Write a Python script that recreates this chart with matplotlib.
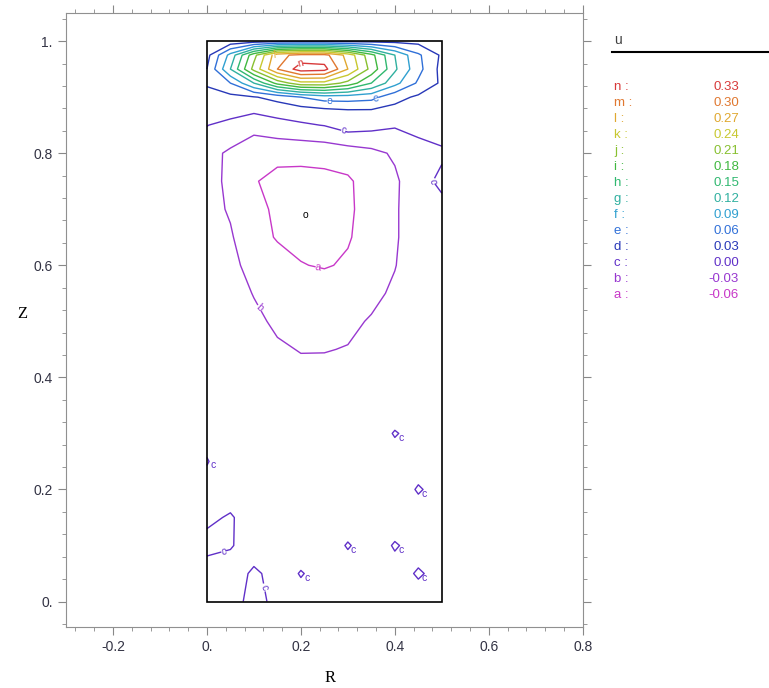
import numpy as np
import matplotlib
matplotlib.use("Agg")
import matplotlib.pyplot as plt
from matplotlib.ticker import MultipleLocator, FuncFormatter
from matplotlib.patches import Rectangle
from matplotlib.lines import Line2D

# grid of the field u (rows = Z, cols = R)
R = [0.0, 0.05, 0.10, 0.15, 0.20, 0.25, 0.30, 0.35, 0.40, 0.45, 0.50]
Z = [0.0, 0.05, 0.10, 0.15, 0.20, 0.25, 0.30, 0.35, 0.40, 0.45, 0.50, 0.55,
     0.60, 0.65, 0.70, 0.75, 0.80, 0.85, 0.875, 0.90, 0.925, 0.95, 0.975, 1.0]
U = [
    [-0.008, -0.012, 0.010, -0.008, -0.006, -0.005, -0.006, -0.006, -0.005, -0.004, -0.003],
    [-0.010, -0.012, 0.004, -0.008, 0.001, -0.006, -0.006, -0.007, -0.004, 0.001, -0.003],
    [0.006, 0.002, -0.012, -0.010, -0.008, -0.007, 0.001, -0.006, 0.001, -0.004, -0.004],
    [-0.004, 0.002, -0.010, -0.010, -0.009, -0.008, -0.007, -0.007, -0.006, -0.005, -0.004],
    [-0.006, -0.010, -0.011, -0.011, -0.010, -0.009, -0.008, -0.007, -0.006, 0.001, -0.004],
    [0.001, -0.010, -0.012, -0.012, -0.011, -0.010, -0.009, -0.008, -0.006, -0.005, -0.004],
    [-0.006, -0.011, -0.013, -0.013, -0.012, -0.011, -0.010, -0.008, 0.001, -0.005, -0.004],
    [-0.007, -0.011, -0.014, -0.016, -0.016, -0.015, -0.013, -0.011, -0.008, -0.006, -0.005],
    [-0.008, -0.012, -0.017, -0.022, -0.024, -0.023, -0.020, -0.016, -0.012, -0.008, -0.005],
    [-0.010, -0.014, -0.020, -0.027, -0.031, -0.031, -0.029, -0.022, -0.016, -0.010, -0.006],
    [-0.010, -0.016, -0.025, -0.034, -0.037, -0.038, -0.035, -0.028, -0.020, -0.012, -0.007],
    [-0.012, -0.020, -0.031, -0.040, -0.045, -0.046, -0.043, -0.036, -0.026, -0.014, -0.008],
    [-0.015, -0.024, -0.038, -0.050, -0.059, -0.062, -0.057, -0.045, -0.031, -0.015, -0.008],
    [-0.018, -0.027, -0.050, -0.062, -0.066, -0.067, -0.062, -0.050, -0.033, -0.015, -0.008],
    [-0.020, -0.033, -0.055, -0.063, -0.070, -0.067, -0.064, -0.050, -0.033, -0.015, -0.008],
    [-0.020, -0.036, -0.058, -0.068, -0.069, -0.068, -0.064, -0.047, -0.035, -0.010, 0.006],
    [-0.022, -0.034, -0.048, -0.052, -0.052, -0.050, -0.046, -0.038, -0.026, -0.010, -0.004],
    [0.001, -0.012, -0.020, -0.010, -0.004, 0.001, 0.015, 0.010, 0.003, 0.008, 0.012],
    [0.008, 0.015, 0.004, 0.010, 0.015, 0.020, 0.025, 0.025, 0.020, 0.018, 0.015],
    [0.015, 0.022, 0.028, 0.040, 0.060, 0.075, 0.075, 0.070, 0.040, 0.025, 0.018],
    [0.035, 0.060, 0.120, 0.190, 0.230, 0.230, 0.200, 0.150, 0.100, 0.055, 0.025],
    [0.030, 0.120, 0.220, 0.300, 0.345, 0.340, 0.270, 0.200, 0.125, 0.070, 0.020],
    [0.020, 0.100, 0.200, 0.290, 0.310, 0.310, 0.260, 0.190, 0.120, 0.065, 0.025],
    [0.004, 0.010, 0.015, 0.020, 0.020, 0.020, 0.020, 0.020, 0.020, 0.020, 0.010],
]

letters = ["a", "b", "c", "d", "e", "f", "g", "h", "i", "j", "k", "l", "m", "n"]
levels = [-0.06, -0.03, 0.00, 0.03, 0.06, 0.09, 0.12, 0.15, 0.18, 0.21, 0.24, 0.27, 0.30, 0.33]
colors = ["#c838c8", "#9838d0", "#6030c8", "#2838b8", "#3070d8", "#30a0d0", "#30b0a0",
          "#30b870", "#40b840", "#88c030", "#c8c830", "#e0a830", "#e07830", "#d83a3a"]

plt.rcParams['font.family'] = ['Liberation Sans', 'DejaVu Sans']

fig = plt.figure(figsize=(7.69, 6.88), dpi=100)
ax = fig.add_axes([0.0858, 0.089, 0.672, 0.892])

RR, ZZ = np.meshgrid(R, Z)
UU = np.array(U)
cs = ax.contour(RR, ZZ, UU, levels=levels, colors=colors, linewidths=1.0)

# small zero-level islands (found before inline labels split the lines)
i0 = levels.index(0.0)
islands = [seg for seg in cs.allsegs[i0]
           if np.ptp(seg[:, 0]) < 0.04 and np.ptp(seg[:, 1]) < 0.04]

fmt = {lv: s for lv, s in zip(levels, letters)}
# labels cut into the longer lines
ax.clabel(cs, fmt=fmt, fontsize=7.5, inline=True, inline_spacing=2,
          manual=[(0.20, 0.955), (0.143, 0.97), (0.26, 0.893), (0.36, 0.898),
                  (0.29, 0.838), (0.472, 0.746), (0.11, 0.52), (0.235, 0.58),
                  (0.13, 0.03), (0.035, 0.088)])

for seg in islands:
    ax.text(seg[:, 0].mean() + 0.012, seg[:, 1].mean() - 0.006, letters[i0],
            color=colors[i0], fontsize=7.5, ha="center", va="center")

# minimum marker
k = np.unravel_index(np.argmin(UU), UU.shape)
ax.text(R[k[1]] + 0.01, Z[k[0]] - 0.01, "o", color="black", fontsize=7.5,
        ha="center", va="center")

# domain box
ax.add_patch(Rectangle((R[0], Z[0]), R[-1] - R[0], Z[-1] - Z[0],
                       fill=False, edgecolor="black", lw=1.2, zorder=3))

ax.set_xlim(-0.3, 0.8)
ax.set_ylim(-0.045, 1.05)
ax.xaxis.set_major_locator(MultipleLocator(0.2))
ax.yaxis.set_major_locator(MultipleLocator(0.2))
ax.xaxis.set_minor_locator(MultipleLocator(0.04))
ax.yaxis.set_minor_locator(MultipleLocator(0.04))


def maple_fmt(v, pos):
    if abs(v - round(v)) < 1e-9:
        return "%d." % int(round(v))
    return "%.1f" % v


ax.xaxis.set_major_formatter(FuncFormatter(maple_fmt))
ax.yaxis.set_major_formatter(FuncFormatter(maple_fmt))
ax.tick_params(which="both", direction="out", top=True, right=True,
               color="#888888", labelcolor="#333344", labelsize=10)
ax.tick_params(which="major", length=6)
ax.tick_params(which="minor", length=3)
for sp in ax.spines.values():
    sp.set_color("#909090")

ax.set_xlabel("R", family="Liberation Serif", fontsize=12)
ax.set_ylabel("Z", family="Liberation Serif", fontsize=12, rotation=0)
ax.xaxis.set_label_coords(0.51, -0.07)
ax.yaxis.set_label_coords(-0.085, 0.496)

# legend on the right
fig.text(614 / 769, 1 - 40 / 688, "u", fontsize=10, color="#404040", va="center")
fig.add_artist(Line2D([612 / 769, 1.0], [1 - 52 / 688, 1 - 52 / 688], color="black", lw=1.5))
for i, (s, lv, c) in enumerate(zip(letters[::-1], levels[::-1], colors[::-1])):
    y = 1 - (87 + 16 * i) / 688
    fig.text(614 / 769, y, s + " :", fontsize=9.5, color=c, va="center")
    fig.text(739 / 769, y, "%.2f" % lv, fontsize=9.5, color=c, va="center", ha="right")

fig.savefig("out.png", dpi=100)
